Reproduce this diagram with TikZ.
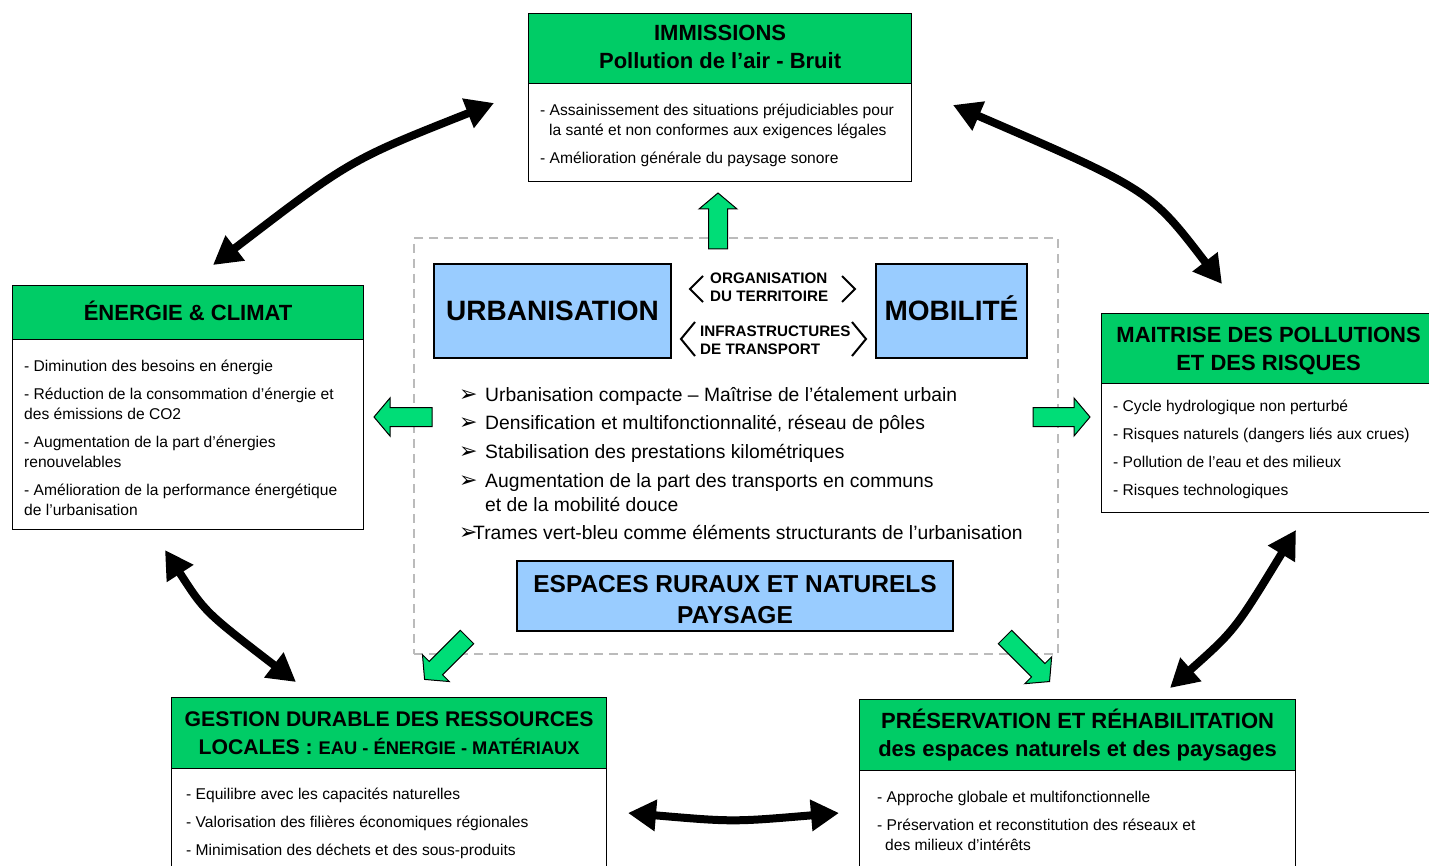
\documentclass[tikz,border=0pt]{standalone}
\usepackage{fontspec}
\setmainfont{Liberation Sans}
\newfontfamily\dejavu{DejaVu Sans}
\usetikzlibrary{arrows.meta}
\definecolor{hdrgreen}{HTML}{00CC66}
\definecolor{arrgreen}{HTML}{00DD77}
\definecolor{boxblue}{HTML}{99CCFF}
\definecolor{dashgray}{HTML}{BBBBBB}
\newcommand\firstln{\rule{0pt}{15pt}}
\newcommand\capln{\rule{0pt}{11pt}}
\newcommand\bulsym{{\dejavu\fontsize{22}{22}\selectfont ➢}}
\newcommand\garrow[3]{%
  \begin{scope}[shift={#1},rotate=#2]
    \draw[blockarr] (0,-9.5) -- (#3-16,-9.5) -- (#3-16,-19) -- (#3,0) -- (#3-16,19) -- (#3-16,9.5) -- (0,9.5) -- cycle;
  \end{scope}}
\begin{document}
\begin{tikzpicture}[x=1pt,y=-1pt,
  hdrbox/.style={draw=black, line width=1.2pt, fill=hdrgreen, anchor=north west, inner sep=0pt},
  hdrtxt/.style={inner sep=0pt, align=center, font=\bfseries\fontsize{22}{28}\selectfont},
  bodybox/.style={draw=black, line width=1.2pt, fill=white, anchor=north west, inner sep=0pt},
  bodytxt/.style={anchor=north west, inner sep=0pt, align=left, font=\fontsize{15.6}{20}\selectfont},
  bluebox/.style={draw=black, line width=1.2pt, fill=boxblue, inner sep=0pt, align=center, font=\bfseries\fontsize{28}{32}\selectfont},
  linklbl/.style={anchor=north west, inner sep=0pt, align=left, font=\bfseries\fontsize{15.2}{18.5}\selectfont},
  bulline/.style={anchor=base west, inner sep=0pt, font=\fontsize{19.3}{24}\selectfont},
  blockarr/.style={draw=black, line width=1pt, fill=arrgreen, line join=miter},
  dbl/.style={line width=8pt, {Triangle[length=28pt,width=30pt]}-{Triangle[length=28pt,width=30pt]}},
  bracket/.style={line width=2pt, line join=miter},
  zonebox/.style={draw=dashgray, line width=2pt, dash pattern=on 9pt off 6pt, anchor=north west, inner sep=0pt}
]
\useasboundingbox (0,0) rectangle (1429,866);
\fill[white] (0,0) rectangle (1429,866);

% ---- top box
\node[bodybox, minimum width=383pt, minimum height=98pt] (imb) at (528,83) {};
\node[hdrbox, minimum width=383pt, minimum height=70pt] (imh) at (528,13) {};
\node[hdrtxt] (imht) at ([yshift=2pt]imh.center) {IMMISSIONS\\Pollution de l’air - Bruit};
\node[bodytxt] (imt) at (540,100) {\firstln- Assainissement des situations préjudiciables pour\\\hspace*{9pt}la santé et non conformes aux exigences légales\\[8pt]- Amélioration générale du paysage sonore};

% ---- left box
\node[bodybox, minimum width=351pt, minimum height=190pt] (enb) at (12,339) {};
\node[hdrbox, minimum width=351pt, minimum height=54pt] (enh) at (12,285) {};
\node[hdrtxt] (enht) at ([yshift=2pt]enh.center) {ÉNERGIE \& CLIMAT};
\node[bodytxt] (ent) at (24,356) {\firstln- Diminution des besoins en énergie\\[8pt]- Réduction de la consommation d’énergie et\\des émissions de CO2\\[8pt]- Augmentation de la part d’énergies\\renouvelables\\[8pt]- Amélioration de la performance énergétique\\de l’urbanisation};

% ---- right box
\node[bodybox, minimum width=332pt, minimum height=129pt] (mpb) at (1101,383) {};
\node[hdrbox, minimum width=332pt, minimum height=70pt] (mph) at (1101,313) {};
\node[hdrtxt] (mpht) at ([xshift=1pt,yshift=-2.5pt]mph.center) {MAITRISE DES POLLUTIONS\\ET DES RISQUES};
\node[bodytxt] (mpt) at (1113,396) {\firstln- Cycle hydrologique non perturbé\\[8pt]- Risques naturels (dangers liés aux crues)\\[8pt]- Pollution de l’eau et des milieux\\[8pt]- Risques technologiques};

% ---- bottom left box
\node[bodybox, minimum width=435pt, minimum height=110pt] (gdb) at (171,768) {};
\node[hdrbox, minimum width=435pt, minimum height=71pt] (gdh) at (171,697) {};
\node[hdrtxt, font=\bfseries\fontsize{21.2}{28}\selectfont] (gdht) at (gdh.center) {GESTION DURABLE DES RESSOURCES\\LOCALES : {\fontsize{18.3}{28}\selectfont EAU - ÉNERGIE - MATÉRIAUX}};
\node[bodytxt] (gdt) at (186,784) {\firstln- Equilibre avec les capacités naturelles\\[8pt]- Valorisation des filières économiques régionales\\[8pt]- Minimisation des déchets et des sous-produits};

% ---- bottom right box
\node[bodybox, minimum width=436pt, minimum height=110pt] (prb) at (859,770) {};
\node[hdrbox, minimum width=436pt, minimum height=71pt] (prh) at (859,699) {};
\node[hdrtxt] (prht) at (prh.center) {PRÉSERVATION ET RÉHABILITATION\\des espaces naturels et des paysages};
\node[bodytxt] (prt) at (877,787) {\firstln- Approche globale et multifonctionnelle\\[8pt]- Préservation et reconstitution des réseaux et\\\hspace*{8pt}des milieux d’intérêts};

% ---- central zone
\node[zonebox, minimum width=644pt, minimum height=416pt] (zone) at (413,237) {};
\node[bluebox, minimum width=237pt, minimum height=94pt, text height=20pt, text depth=0pt] (urb) at (552.5,311) {URBANISATION};
\node[bluebox, minimum width=151pt, minimum height=94pt, text height=20pt, text depth=0pt] (mob) at (951.5,311) {MOBILITÉ};
\node[bluebox, minimum width=436pt, minimum height=70pt, font=\bfseries\fontsize{24.5}{31}\selectfont] (esp) at (735,596) {\rule{0pt}{23.5pt}ESPACES RURAUX ET NATURELS\\PAYSAGE};

\node[linklbl] (org) at (710,272) {\capln ORGANISATION\\DU TERRITOIRE};
\node[linklbl] (inf) at (700,325) {\capln INFRASTRUCTURES\\DE TRANSPORT};
\draw[bracket] (703,276) -- (690,289) -- (703,302);
\draw[bracket] (842,276) -- (855,289) -- (842,302);
\draw[bracket] (695,322) -- (681,339) -- (695,356);
\draw[bracket] (852,322) -- (866,339) -- (852,356);

\node[bulline] (b1) at (459,401) {\makebox[26pt][l]{\bulsym}Urbanisation compacte – Maîtrise de l’étalement urbain};
\node[bulline] (b2) at (459,429) {\makebox[26pt][l]{\bulsym}Densification et multifonctionnalité, réseau de pôles};
\node[bulline] (b3) at (459,458) {\makebox[26pt][l]{\bulsym}Stabilisation des prestations kilométriques};
\node[bulline] (b4) at (459,487) {\makebox[26pt][l]{\bulsym}Augmentation de la part des transports en communs};
\node[bulline] (b4b) at (485,511) {et de la mobilité douce};
\node[bulline] (b5) at (459,539) {\makebox[14pt][l]{\bulsym}Trames vert-bleu comme éléments structurants de l’urbanisation};

% ---- green block arrows
\garrow{(718,249)}{90}{56}
\garrow{(432,417)}{180}{58}
\garrow{(1033,417)}{0}{57}
\garrow{(467,637)}{225}{60}
\garrow{(1005,637)}{-45}{63}

% ---- black double arrows
\coordinate (p1a) at (213,265); \coordinate (p1b) at (494,103);
\coordinate (p2a) at (953,105); \coordinate (p2b) at (1222,284);
\coordinate (p3a) at (165,550); \coordinate (p3b) at (296,682);
\coordinate (p4a) at (1296,530); \coordinate (p4b) at (1170,688);
\coordinate (p5a) at (628,813); \coordinate (p5b) at (839,813);
\draw[dbl] (p1a) .. controls (350,160) .. (p1b);
\draw[dbl] (p2a) .. controls (1150,190) .. (p2b);
\draw[dbl] (p3a) .. controls (205,612) .. (p3b);
\draw[dbl] (p4a) .. controls (1235,630) .. (p4b);
\draw[dbl] (p5a) .. controls (733,822) .. (p5b);
\end{tikzpicture}
\end{document}
